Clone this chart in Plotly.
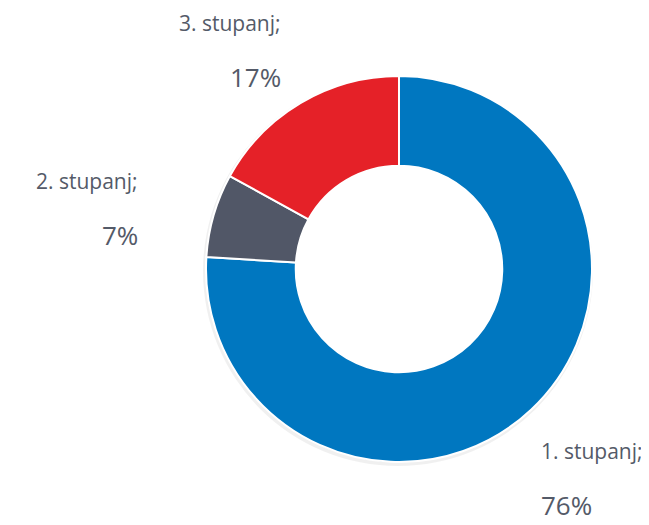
import math
import plotly.graph_objects as go

categories = ['1. stupanj', '2. stupanj', '3. stupanj']
shares = [76, 7, 17]
colors = ['#0077C0', '#515767', '#E52128']

PAD = 8  # page body margin around the figure
W, H = 649 - PAD, 525 - PAD
# donut placement in figure pixels
cx, cy, R = 399 - PAD, 269 - PAD, 193

fig = go.Figure()

# faint shadow ring behind the donut
fig.add_trace(go.Pie(
    values=[1], hole=0.56, sort=False, showlegend=False, textinfo='none',
    hoverinfo='skip',
    marker=dict(colors=['rgba(0,0,0,0.06)'], line=dict(width=0)),
    domain=dict(x=[(cx - R - 3) / W, (cx + R + 1) / W],
                y=[1 - (cy + R + 4) / H, 1 - (cy - R) / H]),
))

fig.add_trace(go.Pie(
    labels=categories, values=shares, hole=0.535, sort=False,
    direction='clockwise', rotation=0, textinfo='none', showlegend=False,
    marker=dict(colors=colors, line=dict(color='white', width=2)),
    domain=dict(x=[(cx - R) / W, (cx + R) / W],
                y=[1 - (cy + R) / H, 1 - (cy - R) / H]),
))

# outside labels placed around the mid-angle of each slice
total = sum(shares)
nudge = [(-36, 22), (-12, 11), (15, 2)]
annotations = []
acc = 0
for i, (cat, v) in enumerate(zip(categories, shares)):
    mid = (acc + v / 2) / total * 2 * math.pi
    acc += v
    lx = cx + 257 * math.sin(mid) + nudge[i][0]
    ly = cy - 257 * math.cos(mid) + nudge[i][1]
    side = 'left' if math.sin(mid) >= 0 else 'right'
    annotations.append(dict(
        x=lx / W, y=1 - (ly - 27) / H, xref='paper', yref='paper',
        text=cat + ';', showarrow=False, xanchor=side, yanchor='middle',
        font=dict(size=21, color='#545A68')))
    annotations.append(dict(
        x=lx / W, y=1 - (ly + 27) / H, xref='paper', yref='paper',
        text=f'{v}%', showarrow=False, xanchor=side, yanchor='middle',
        font=dict(size=26, color='#545A68')))

fig.update_layout(
    width=W, height=H,
    margin=dict(l=0, r=0, t=0, b=0),
    paper_bgcolor='white', plot_bgcolor='white',
    font=dict(family='Open Sans, sans-serif'),
    annotations=annotations,
)

fig.write_html("out.html")
